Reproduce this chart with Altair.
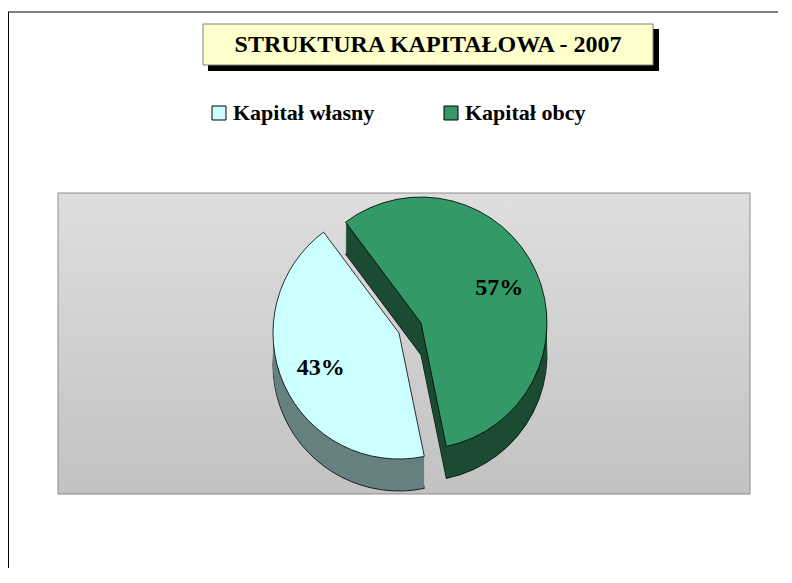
import math
import altair as alt
import pandas as pd

# ---------------- data ----------------
categories = ["Kapitał własny", "Kapitał obcy"]
shares = [43, 57]
labels = ["43%", "57%"]
top_colors = ["#ccffff", "#339966"]
side_colors = ["#668080", "#1c4c33"]
TITLE = "STRUKTURA KAPITAŁOWA -  2007"

df = pd.DataFrame({"category": categories, "share": shares,
                   "label": labels, "side": side_colors})

# ---------------- layout constants ----------------
W, H = 770, 560
FONT = "Liberation Serif"
CX, CY = 402, 320          # pie centre (top face)
R = 126                    # pie radius
DEPTH = 32                 # pie thickness
EXPLODE = {"Kapitał obcy": (11, -5), "Kapitał własny": (-11, 5)}
START = -0.642             # start angle of first slice (radians)

theta_scale = alt.Scale(domain=[0, 1], range=[START, START + 2 * math.pi])
color_scale = alt.Scale(domain=categories, range=top_colors)

base = (
    alt.Chart(df)
    .transform_joinaggregate(total="sum(share)")
    .transform_window(cum="sum(share)",
                      sort=[alt.SortField("category", order="ascending")],
                      frame=[None, 0])
    .transform_calculate(
        start="(datum.cum - datum.share) / datum.total",
        end="datum.cum / datum.total",
        mid="(datum.cum - datum.share / 2) / datum.total",
    )
)

one = alt.Data(values=[{"t": TITLE}])


def deco_rect(x, x2, y, y2, fill, stroke=None, sw=0):
    kw = dict(fill=fill, strokeWidth=sw)
    if stroke:
        kw["stroke"] = stroke
    return alt.Chart(one).mark_rect(**kw).encode(
        x=alt.value(x), x2=alt.value(x2), y=alt.value(y), y2=alt.value(y2))


layers = []

# outer frame (top and left edges visible)
layers.append(alt.Chart(one).mark_rule(color="black", strokeWidth=1).encode(
    x=alt.value(0), x2=alt.value(W), y=alt.value(4)))
layers.append(alt.Chart(one).mark_rule(color="black", strokeWidth=1).encode(
    x=alt.value(0.5), y=alt.value(4), y2=alt.value(H)))

# title box with shadow
layers.append(deco_rect(200, 651, 21, 63, "black"))
layers.append(deco_rect(195, 645, 16, 57, "#ffffcc", "#7f7f7f", 1))
layers.append(alt.Chart(one).mark_text(
    font=FONT, fontSize=24, fontWeight="bold", color="black",
    align="center", baseline="middle").encode(
    x=alt.value(420), y=alt.value(37), text="t:N"))

# plot area with gradient
grad = alt.LinearGradient(
    gradient="linear",
    stops=[alt.GradientStop(color="#dedede", offset=0),
           alt.GradientStop(color="#c2c2c2", offset=1)],
    x1=0, x2=0, y1=0, y2=1)
layers.append(alt.Chart(one).mark_rect(color=grad, stroke="#8c8c8c", strokeWidth=1).encode(
    x=alt.value(50), x2=alt.value(742), y=alt.value(185), y2=alt.value(486)))


def slice_layers(cat, show_legend):
    dx, dy = EXPLODE[cat]
    sub = base.transform_filter(alt.datum.category == cat)
    out = []
    # side (extrusion)
    for k in range(DEPTH, 0, -2):
        kw = dict(radius=R)
        if k == DEPTH:
            kw.update(stroke="black", strokeWidth=0.8)
        else:
            kw.update(strokeWidth=0)
        out.append(sub.mark_arc(**kw).encode(
            theta=alt.Theta("start:Q", scale=theta_scale),
            theta2="end:Q",
            x=alt.value(CX + dx), y=alt.value(CY + dy + k),
            color=alt.Color("side:N", scale=None)))
    # top face
    legend = alt.Legend(
        title=None, orient="none", legendX=200, legendY=94,
        direction="horizontal", symbolType="square", symbolSize=196,
        symbolStrokeColor="black", symbolStrokeWidth=1, symbolOpacity=1,
        labelFont=FONT, labelFontSize=22, labelFontWeight="bold",
        labelColor="black", labelLimit=400, labelOffset=3,
        columnPadding=65) if show_legend else None
    enc_color = alt.Color("category:N", scale=color_scale, legend=legend)
    out.append(sub.mark_arc(radius=R, stroke="black", strokeWidth=0.8).encode(
        theta=alt.Theta("start:Q", scale=theta_scale),
        theta2="end:Q",
        x=alt.value(CX + dx), y=alt.value(CY + dy),
        color=enc_color))
    # percentage label
    out.append(sub.mark_text(font=FONT, fontSize=24, fontWeight="bold",
                             color="black", radius=R * 0.68,
                             align="center", baseline="middle").encode(
        theta=alt.Theta("mid:Q", scale=theta_scale),
        x=alt.value(CX + dx), y=alt.value(CY + dy),
        text="label:N"))
    return out


layers += slice_layers("Kapitał obcy", True)
layers += slice_layers("Kapitał własny", False)

chart = (
    alt.layer(*layers)
    .properties(width=W, height=H, padding=0,
                autosize=alt.AutoSizeParams(type="none"),
                background="white")
    .configure_view(strokeWidth=0)
)

chart.save("out.html", embed_options={"renderer": "svg", "actions": False})
